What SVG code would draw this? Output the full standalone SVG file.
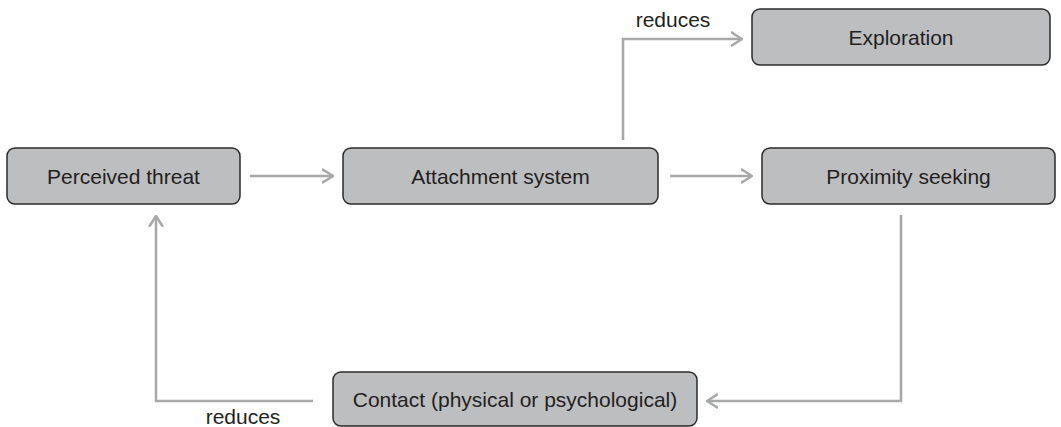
<svg xmlns="http://www.w3.org/2000/svg" width="1061" height="427" viewBox="0 0 1061 427">
  <style>
    .box { fill: #bdbec0; stroke: #2b2b2b; stroke-width: 1.5; }
    .label { font-family: "Liberation Sans", Arial, sans-serif; font-size: 21px; fill: #231f20; text-anchor: middle; }
    .link { fill: none; stroke: #a7a8aa; stroke-width: 2.5; marker-end: url(#chevron); }
  </style>
  <defs>
    <marker id="chevron" viewBox="0 0 12 16" markerUnits="userSpaceOnUse" markerWidth="12" markerHeight="16" refX="11" refY="8" orient="auto">
      <path d="M0,1 L11,8 L0,15" fill="none" stroke="#a7a8aa" stroke-width="2.5"/>
    </marker>
  </defs>
  <rect width="1061" height="427" fill="#ffffff"/>

  <g id="connectors">
    <path class="link" d="M250,176 H333"/>
    <path class="link" d="M670,176 H752"/>
    <path class="link" d="M623,140 V39 H742"/>
    <path class="link" d="M901,215 V401 H707"/>
    <path class="link" d="M313,401 H156 V216"/>
    <text class="label" x="673" y="27">reduces</text>
    <text class="label" x="243" y="424">reduces</text>
  </g>

  <g id="perceived-threat">
    <rect class="box" x="7" y="148" width="233" height="56" rx="8"/>
    <text class="label" x="123.5" y="183.5">Perceived threat</text>
  </g>
  <g id="attachment-system">
    <rect class="box" x="343" y="148" width="315" height="56" rx="8"/>
    <text class="label" x="500.5" y="183.5">Attachment system</text>
  </g>
  <g id="proximity-seeking">
    <rect class="box" x="762" y="148" width="293" height="56" rx="8"/>
    <text class="label" x="908.5" y="183.5">Proximity seeking</text>
  </g>
  <g id="exploration">
    <rect class="box" x="752" y="9" width="298" height="56" rx="8"/>
    <text class="label" x="901" y="44.5">Exploration</text>
  </g>
  <g id="contact">
    <rect class="box" x="333" y="372" width="364" height="54" rx="8"/>
    <text class="label" x="515" y="406.5">Contact (physical or psychological)</text>
  </g>
</svg>
